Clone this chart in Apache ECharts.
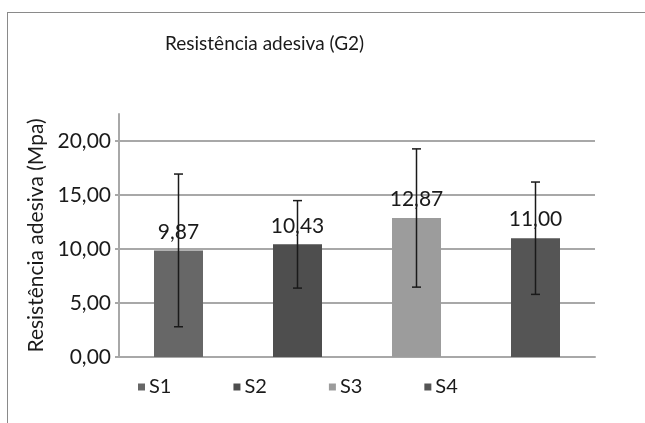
<!DOCTYPE html>
<html>
<head>
<meta charset="utf-8">
<script src="https://cdn.jsdelivr.net/npm/echarts@6/dist/echarts.min.js"></script>
<style>
  html, body { margin: 0; padding: 0; background: #fff; }
  #frame { position: absolute; left: 7px; top: 12px; width: 650px; height: 420px; border-left: 1.5px solid #8a8a8a; border-top: 1.5px solid #8a8a8a; }
  #chart { position: absolute; left: 0; top: 0; width: 645px; height: 423px; }
</style>
</head>
<body>
<div id="frame"></div>
<div id="chart"></div>
<script>
const titleText = 'Resistência adesiva (G2)';
const yAxisName = 'Resistência adesiva (Mpa)';
const categories = ['S1', 'S2', 'S3', 'S4'];
const means = [9.87, 10.43, 12.87, 11.00];
const errors = [7.07, 4.05, 6.40, 5.20];
const colors = ['#676767', '#4e4e4e', '#9c9c9c', '#555555'];

const fmt = v => Number(v).toFixed(2).replace('.', ',');
const FONT = 'Lato';

const chart = echarts.init(document.getElementById('chart'), null, { renderer: 'canvas' });

const barSeries = categories.map((name, i) => ({
  name: name,
  type: 'bar',
  barWidth: 49,
  barGap: '-100%',
  itemStyle: { color: colors[i] },
  data: categories.map((c, j) => (j === i ? means[i] : '-')),
  label: {
    show: true,
    position: 'top',
    distance: 8,
    color: '#1a1a1a',
    fontFamily: FONT,
    fontSize: 21,
    formatter: p => fmt(p.value)
  },
  z: 2
}));

const errorSeries = {
  type: 'custom',
  name: 'erro',
  z: 5,
  data: categories.map((c, i) => [i, means[i] - errors[i], means[i] + errors[i]]),
  renderItem: function (params, api) {
    const x = api.value(0);
    const lo = api.coord([x, api.value(1)]);
    const hi = api.coord([x, api.value(2)]);
    const cap = 4.5;
    const style = { stroke: '#1a1a1a', lineWidth: 1.5 };
    return {
      type: 'group',
      children: [
        { type: 'line', shape: { x1: hi[0], y1: hi[1], x2: lo[0], y2: lo[1] }, style: style },
        { type: 'line', shape: { x1: hi[0] - cap, y1: hi[1], x2: hi[0] + cap, y2: hi[1] }, style: style },
        { type: 'line', shape: { x1: lo[0] - cap, y1: lo[1], x2: lo[0] + cap, y2: lo[1] }, style: style }
      ]
    };
  },
  silent: true
};

chart.setOption({
  animation: false,
  backgroundColor: 'transparent',
  title: {
    text: titleText,
    left: 160,
    top: 29,
    textStyle: { fontFamily: FONT, fontSize: 19, fontWeight: 'normal', color: '#1a1a1a' }
  },
  legend: {
    data: categories,
    left: 133,
    top: 372,
    itemWidth: 7,
    itemHeight: 7,
    itemGap: 62,
    icon: 'rect',
    textStyle: { fontFamily: FONT, fontSize: 20, color: '#1a1a1a', padding: [0, 0, 0, -1] }
  },
  grid: { left: 119, right: 50, top: 114, bottom: 66, containLabel: false },
  xAxis: {
    type: 'category',
    data: categories,
    axisLine: { show: true, lineStyle: { color: '#a8a8a8', width: 2 } },
    axisTick: { show: false },
    axisLabel: { show: false },
    splitLine: { show: false }
  },
  yAxis: {
    type: 'value',
    min: 0,
    max: 22.5,
    interval: 5,
    name: yAxisName,
    nameLocation: 'middle',
    nameGap: 68,
    nameRotate: 90,
    nameTextStyle: { fontFamily: FONT, fontSize: 21, color: '#1a1a1a' },
    axisLine: { show: true, lineStyle: { color: '#a8a8a8', width: 2 } },
    axisTick: { show: true, length: 4, lineStyle: { color: '#a8a8a8', width: 2 } },
    axisLabel: {
      fontFamily: FONT,
      fontSize: 21,
      color: '#1a1a1a',
      margin: 8,
      showMaxLabel: false,
      formatter: v => (v % 5 === 0 ? fmt(v) : '')
    },
    splitLine: { show: true, showMaxLine: false, lineStyle: { color: '#a8a8a8', width: 2 } }
  },
  series: barSeries.concat([errorSeries])
});
</script>
</body>
</html>
